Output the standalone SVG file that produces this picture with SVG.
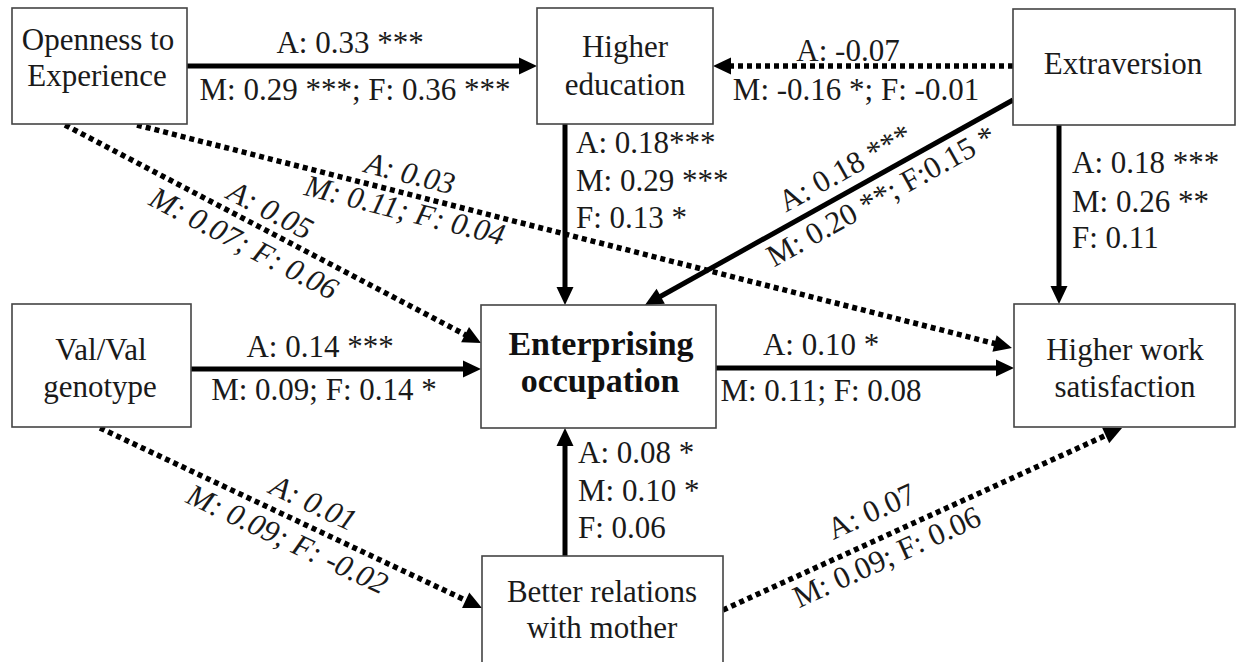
<svg xmlns="http://www.w3.org/2000/svg" width="1236" height="662" viewBox="0 0 1236 662">
<style>
.box{fill:#fff;stroke:#444;stroke-width:1.6}
.nt{font-family:"Liberation Serif","Times New Roman",serif;font-size:31px;fill:#1a1a1a;text-anchor:middle}
.bt{font-family:"Liberation Serif","Times New Roman",serif;font-size:34px;font-weight:bold;fill:#111;text-anchor:middle}
.lb{font-family:"Liberation Serif","Times New Roman",serif;font-size:31px;fill:#1a1a1a}
.mid{text-anchor:middle}
.it{font-style:italic}
.solid{fill:none;stroke:#000;stroke-width:5}
.dot{fill:none;stroke:#000;stroke-width:5.5;stroke-dasharray:5 4}
</style>
<defs>
<marker id="ah" markerUnits="userSpaceOnUse" markerWidth="18" markerHeight="17" viewBox="0 0 18 17" refX="4" refY="8.5" orient="auto" overflow="visible">
<path d="M0,0 L18,8.5 L0,17 z" fill="#000"/>
</marker>
</defs>
<rect width="1236" height="662" fill="#fff"/>

<g id="connectors">
<line class="solid" x1="187" y1="66" x2="523" y2="66" marker-end="url(#ah)"/>
<line class="dot" x1="1013" y1="66" x2="727" y2="66" marker-end="url(#ah)"/>
<line class="solid" x1="565" y1="124" x2="565" y2="291" marker-end="url(#ah)"/>
<line class="solid" x1="1013" y1="100" x2="657.2" y2="298.2" marker-end="url(#ah)"/>
<line class="solid" x1="1059" y1="125" x2="1059" y2="290" marker-end="url(#ah)"/>
<line class="dot" x1="137" y1="125" x2="998.4" y2="344.5" marker-end="url(#ah)"/>
<line class="dot" x1="65" y1="125" x2="468.6" y2="336.5" marker-end="url(#ah)"/>
<line class="dot" x1="100" y1="428" x2="469.3" y2="602" marker-end="url(#ah)"/>
<line class="dot" x1="723" y1="610" x2="1109.3" y2="433.8" marker-end="url(#ah)"/>
<line class="solid" x1="191" y1="369" x2="467" y2="369" marker-end="url(#ah)"/>
<line class="solid" x1="716" y1="368" x2="1000" y2="368" marker-end="url(#ah)"/>
<line class="solid" x1="565" y1="556" x2="565" y2="442" marker-end="url(#ah)"/>

<text class="lb mid" x="350" y="53">A: 0.33 ***</text>
<text class="lb mid" x="355" y="100">M: 0.29 ***; F: 0.36 ***</text>
<text class="lb mid" x="848" y="61">A: -0.07</text>
<text class="lb mid" x="856" y="100">M: -0.16 *; F: -0.01</text>
<text class="lb" x="576" y="153">A: 0.18***</text>
<text class="lb" x="576" y="191">M: 0.29 ***</text>
<text class="lb" x="576" y="228">F: 0.13 *</text>
<text class="lb" x="1072" y="173">A: 0.18 ***</text>
<text class="lb" x="1072" y="212">M: 0.26 **</text>
<text class="lb" x="1072" y="248">F: 0.11</text>
<text class="lb mid" x="320" y="357">A: 0.14 ***</text>
<text class="lb mid" x="324" y="400">M: 0.09; F: 0.14 *</text>
<text class="lb mid" x="821" y="355">A: 0.10 *</text>
<text class="lb mid" x="821" y="401">M: 0.11; F: 0.08</text>
<text class="lb" x="578" y="463">A: 0.08 *</text>
<text class="lb" x="578" y="501">M: 0.10 *</text>
<text class="lb" x="578" y="538">F: 0.06</text>

<text class="lb mid" transform="translate(855.9,187.5) rotate(-29.12)" x="0" y="-12">A: 0.18 ***</text>
<text class="lb mid" transform="translate(871.6,178.8) rotate(-29.12)" x="0" y="30">M: 0.20 **; F:0.15 *</text>
<text class="lb mid it" transform="translate(405,193) rotate(14.3)" x="0" y="-10">A: 0.03</text>
<text class="lb mid it" transform="translate(409,194) rotate(14.3)" x="0" y="27">M: 0.11; F: 0.04</text>
<text class="lb mid it" transform="translate(261,228) rotate(27.65)" x="0" y="-10">A: 0.05</text>
<text class="lb mid it" transform="translate(254,224) rotate(27.65)" x="0" y="32">M: 0.07; F: 0.06</text>
<text class="lb mid it" transform="translate(303.5,523.9) rotate(25.23)" x="0" y="-13">A: 0.01</text>
<text class="lb mid it" transform="translate(296.3,520.5) rotate(25.23)" x="0" y="31">M: 0.09; F: -0.02</text>
<text class="lb mid" transform="translate(883.1,537) rotate(-24.52)" x="0" y="-18">A: 0.07</text>
<text class="lb mid" transform="translate(878.6,539) rotate(-24.52)" x="0" y="30">M: 0.09; F: 0.06</text>
</g>

<g id="openness">
<rect class="box" x="12" y="8" width="175" height="116"/>
<text class="nt" x="98" y="50">Openness to</text>
<text class="nt" x="97" y="86">Experience</text>
</g>
<g id="higher-education">
<rect class="box" x="537" y="8" width="176" height="116"/>
<text class="nt" x="625" y="57">Higher</text>
<text class="nt" x="625" y="95">education</text>
</g>
<g id="extraversion">
<rect class="box" x="1013" y="9" width="222" height="116"/>
<text class="nt" x="1123" y="74">Extraversion</text>
</g>
<g id="valval">
<rect class="box" x="12" y="304" width="179" height="123"/>
<text class="nt" x="101" y="360">Val/Val</text>
<text class="nt" x="100" y="397">genotype</text>
</g>
<g id="enterprising">
<rect class="box" x="481" y="305" width="235" height="123"/>
<text class="bt" x="601" y="355">Enterprising</text>
<text class="bt" x="600" y="392">occupation</text>
</g>
<g id="work-satisfaction">
<rect class="box" x="1014" y="304" width="221" height="123"/>
<text class="nt" x="1125" y="360">Higher work</text>
<text class="nt" x="1125" y="397">satisfaction</text>
</g>
<g id="mother">
<rect class="box" x="482" y="556" width="241" height="120"/>
<text class="nt" x="602" y="602">Better relations</text>
<text class="nt" x="602" y="638">with mother</text>
</g>
</svg>
